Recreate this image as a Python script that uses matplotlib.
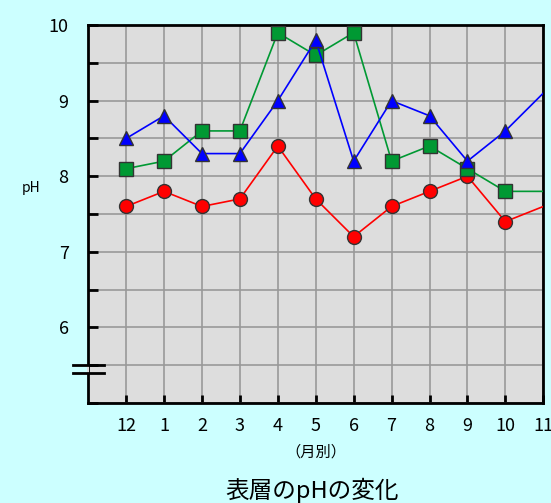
import matplotlib.pyplot as plt
import numpy as np

plt.rcParams['font.family'] = ['Noto Sans CJK JP', 'DejaVu Sans']

# 月別の表層pH
months = ['12', '1', '2', '3', '4', '5', '6', '7', '8', '9', '10', '11']
ph_red = [7.6, 7.8, 7.6, 7.7, 8.4, 7.7, 7.2, 7.6, 7.8, 8.0, 7.4, 7.6]
ph_green = [8.1, 8.2, 8.6, 8.6, 9.9, 9.6, 9.9, 8.2, 8.4, 8.1, 7.8, 7.8]
ph_blue = [8.5, 8.8, 8.3, 8.3, 9.0, 9.8, 8.2, 9.0, 8.8, 8.2, 8.6, 9.1]

bg = '#ccffff'
fig = plt.figure(figsize=(5.51, 5.03), dpi=100, facecolor=bg)
ax = fig.add_axes([0.160, 0.199, 0.826, 0.751])
ax.set_facecolor('#dddddd')

x = np.arange(len(months))
marks = list(range(len(months) - 1))  # 11月の点は枠の外
ax.plot(x, ph_red, color='#ff0000', lw=1.2, marker='o', ms=10, mec='#333333', mew=1,
        mfc='#ff0000', markevery=marks, zorder=3)
ax.plot(x, ph_green, color='#009933', lw=1.2, marker='s', ms=10, mec='#333333', mew=1,
        mfc='#009933', markevery=marks, zorder=4)
ax.plot(x, ph_blue, color='#0000ff', lw=1.2, marker='^', ms=10, mec='#333333', mew=1,
        mfc='#0000ff', markevery=marks, zorder=5)

ax.set_xlim(-1, 11)
ax.set_ylim(5, 10)
ax.set_xticks(x)
ax.set_xticklabels(months, fontsize=13)
ax.set_yticks([6, 7, 8, 9, 10])
ax.set_yticks(np.arange(5, 10.01, 0.5), minor=True)
ax.tick_params(axis='y', which='both', direction='in', length=7, width=2, labelsize=13, pad=14)
ax.tick_params(axis='x', direction='in', length=6, width=2, pad=10)
ax.grid(True, which='both', color='#999999', lw=1.2, zorder=0)
ax.set_axisbelow(True)
for s in ax.spines.values():
    s.set_linewidth(2)

# 軸の省略記号
ax.fill_between([-1.39, -1.0], 5.4, 5.5, color=bg, zorder=6, clip_on=False, lw=0)
ax.fill_between([-1.03, -0.97], 5.4, 5.5, color='#dddddd', zorder=6, clip_on=False, lw=0)
ax.plot([-1.39, -0.58], [5.5, 5.5], color='black', lw=2, clip_on=False, zorder=7)
ax.plot([-1.39, -0.58], [5.4, 5.4], color='black', lw=2, clip_on=False, zorder=7)

ax.set_ylabel('pH', rotation=0, fontsize=10)
ax.yaxis.set_label_coords(-0.125, 0.55)
ax.set_xlabel('（月別）', fontsize=11, labelpad=6)
fig.text(0.567, 0.026, '表層のpHの変化', fontsize=17, ha='center', va='center')

plt.savefig('out.png', dpi=100, facecolor=bg)
